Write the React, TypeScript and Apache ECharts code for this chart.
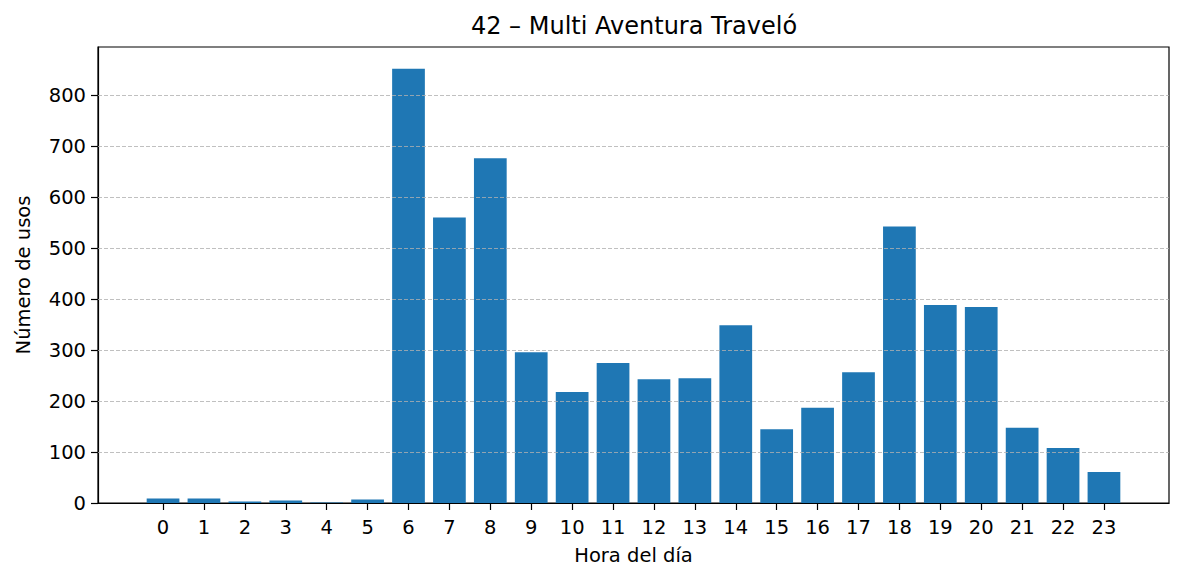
import React, { useEffect, useRef } from "react";
import * as echarts from "echarts";

const titleText = "42 – Multi Aventura Traveló";
const xLabel = "Hora del día";
const yLabel = "Número de usos";
const hours = [0, 1, 2, 3, 4, 5, 6, 7, 8, 9, 10, 11, 12, 13, 14, 15, 16, 17, 18, 19, 20, 21, 22, 23];
const usos = [9, 9, 3, 5, 1, 7, 853, 561, 677, 296, 218, 275, 243, 245, 349, 145, 187, 257, 543, 389, 385, 148, 108, 61];
const yTicks = [0, 100, 200, 300, 400, 500, 600, 700, 800];

export default function App() {
  const ref = useRef<HTMLDivElement>(null);
  useEffect(() => {
    document.body.style.margin = "0";
    const el = ref.current!;
    const chart = echarts.init(el, null, { renderer: "svg" });
    const W = 1184;
    const gridLeft = 98;
    const gridRight = 15;
    const barW = 0.8;
    const xMin = -barW / 2 - (hours.length - 1 + barW) * 0.05;
    const xMax = hours.length - 1 + barW / 2 + (hours.length - 1 + barW) * 0.05;
    const plotW = W - gridLeft - gridRight;
    const barPx = (plotW / (xMax - xMin)) * barW;
    const yMax = Math.max(...usos) * 1.05;
    const font = "DejaVu Sans";
    chart.setOption({
      animation: false,
      title: {
        text: titleText,
        left: 629,
        textAlign: "center",
        top: 9,
        textStyle: { fontFamily: font, fontSize: 24, fontWeight: "normal", color: "#000" },
      },
      grid: {
        left: gridLeft,
        right: gridRight,
        top: 47,
        bottom: 78,
        show: true,
        borderColor: "#000",
        borderWidth: 1.2,
        backgroundColor: "transparent",
      },
      xAxis: {
        type: "value",
        min: xMin,
        max: xMax,
        name: xLabel,
        nameLocation: "middle",
        nameGap: 42,
        nameTextStyle: { fontFamily: font, fontSize: 19.5, color: "#000" },
        axisLine: { show: true, onZero: false, lineStyle: { color: "#000", width: 1.2 } },
        axisTick: { show: true, length: 7, inside: false, customValues: hours, lineStyle: { color: "#000", width: 1.2 } },
        axisLabel: { customValues: hours, fontFamily: font, fontSize: 19.5, color: "#000", margin: 14 },
        splitLine: { show: false },
      },
      yAxis: {
        type: "value",
        min: 0,
        max: yMax,
        name: yLabel,
        nameLocation: "middle",
        nameGap: 65,
        nameTextStyle: { fontFamily: font, fontSize: 19.5, color: "#000" },
        axisLine: { show: true, onZero: false, lineStyle: { color: "#000", width: 1.2 } },
        axisTick: { show: true, length: 7, inside: false, customValues: yTicks, lineStyle: { color: "#000", width: 1.2 } },
        axisLabel: { customValues: yTicks, fontFamily: font, fontSize: 19.5, color: "#000", margin: 12 },
        splitLine: { show: false },
      },
      series: [
        {
          type: "line",
          data: [],
          silent: true,
          markLine: {
            symbol: "none",
            silent: true,
            label: { show: false },
            lineStyle: { color: "#b0b0b0", width: 0.8, type: [4, 2] },
            data: yTicks.filter((v) => v > 0).map((v) => ({ yAxis: v })),
          },
        },
        {
          type: "bar",
          data: hours.map((h, i) => [h, usos[i]]),
          barWidth: barPx,
          itemStyle: { color: "#1f77b4" },
          z: 3,
        },
      ],
    });
    return () => chart.dispose();
  }, []);
  return <div ref={ref} style={{ width: 1184, height: 581 }} />;
}
